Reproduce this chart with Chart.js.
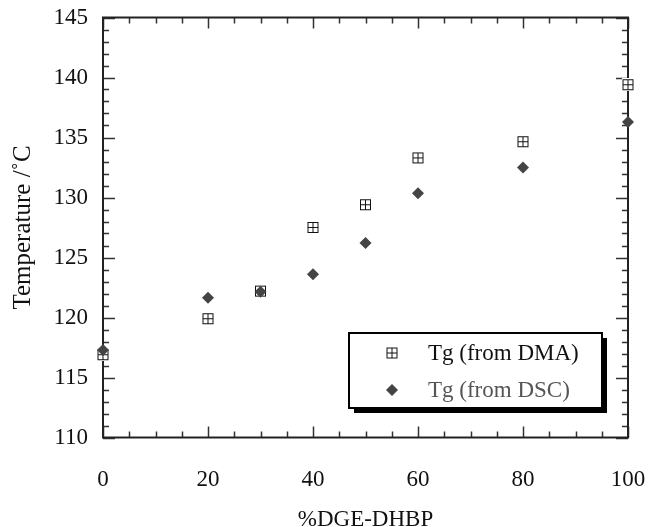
<!DOCTYPE html>
<html>
<head>
<meta charset="utf-8">
<script src="https://cdn.jsdelivr.net/npm/chart.js@4"></script>
<style>
  html, body { margin: 0; padding: 0; background: #fff; }
  #wrap { width: 648px; height: 527px; }
</style>
</head>
<body>
<div id="wrap"><canvas id="chart" width="648" height="527"></canvas></div>
<script>
// %DGE-DHBP content
const composition = [0, 20, 30, 40, 50, 60, 80, 100];
// Tg values (deg C)
const tgDMA = [116.9, 119.9, 122.2, 127.5, 129.4, 133.3, 134.65, 139.4];
const tgDSC = [117.3, 121.65, 122.15, 123.6, 126.2, 130.35, 132.5, 136.3];
const seriesLabels = ['Tg (from DMA)', 'Tg (from DSC)'];

const FONT = "'Liberation Serif', 'DejaVu Serif', serif";

// square with a cross inside, used as point style for DMA
function boxCross() {
  const c = document.createElement('canvas');
  c.width = 13; c.height = 13;
  const g = c.getContext('2d');
  g.fillStyle = '#fff';
  g.fillRect(0, 0, 13, 13);
  g.strokeStyle = '#111';
  g.lineWidth = 1;
  g.strokeRect(1.5, 1.5, 10, 10);
  g.beginPath();
  g.moveTo(6.5, 1.5); g.lineTo(6.5, 11.5);
  g.moveTo(1.5, 6.5); g.lineTo(11.5, 6.5);
  g.stroke();
  return c;
}
const dmaMarker = boxCross();

const toPoints = ys => composition.map((x, i) => ({ x: x, y: ys[i] }));

// frame with inward ticks on all four sides
const framePlugin = {
  id: 'frame',
  beforeDatasetsDraw(chart) {
    const { ctx, chartArea: a, scales: { x, y } } = chart;
    ctx.save();
    ctx.strokeStyle = '#333';
    ctx.lineWidth = 1.5;
    ctx.beginPath();
    for (let v = 0; v <= 100; v += 5) {
      const px = Math.round(x.getPixelForValue(v)) + 0.5;
      const len = v % 20 === 0 ? 11 : 6;
      ctx.moveTo(px, a.bottom); ctx.lineTo(px, a.bottom - len);
      ctx.moveTo(px, a.top); ctx.lineTo(px, a.top + len);
    }
    for (let v = 110; v <= 145; v += 1) {
      const py = Math.round(y.getPixelForValue(v)) + 0.5;
      const len = v % 5 === 0 ? 12 : 6;
      ctx.moveTo(a.left, py); ctx.lineTo(a.left + len, py);
      ctx.moveTo(a.right, py); ctx.lineTo(a.right - len, py);
    }
    ctx.stroke();
    ctx.lineWidth = 2;
    ctx.strokeStyle = '#222';
    ctx.strokeRect(a.left, a.top, a.right - a.left, a.bottom - a.top);
    ctx.restore();
  },
  afterDraw(chart) {
    // boxed legend with drop shadow
    const { ctx } = chart;
    const bx = 349, by = 333, bw = 253, bh = 75;
    ctx.save();
    ctx.fillStyle = '#000';
    ctx.fillRect(bx + 5, by + 5, bw, bh);
    ctx.fillStyle = '#fff';
    ctx.fillRect(bx, by, bw, bh);
    ctx.strokeStyle = '#000';
    ctx.lineWidth = 2;
    ctx.strokeRect(bx, by, bw, bh);
    ctx.font = '23px ' + FONT;
    ctx.textBaseline = 'middle';
    const rows = [by + 20, by + 57];
    chart.data.datasets.forEach((ds, i) => {
      const cy = rows[i];
      if (ds.pointStyle === dmaMarker) {
        ctx.drawImage(dmaMarker, 392 - 6.5, cy - 6.5);
      } else {
        ctx.fillStyle = ds.backgroundColor;
        Chart.helpers.drawPoint(ctx, { pointStyle: 'rectRot', radius: 6, borderWidth: 0 }, 392, cy);
      }
      ctx.fillStyle = i === 0 ? '#111' : '#555';
      ctx.fillText(ds.label, 428, cy + 1);
    });
    ctx.restore();
  }
};

new Chart(document.getElementById('chart'), {
  type: 'scatter',
  data: {
    datasets: [
      {
        label: seriesLabels[0],
        data: toPoints(tgDMA),
        pointStyle: dmaMarker,
        clip: false,
        order: 1
      },
      {
        label: seriesLabels[1],
        data: toPoints(tgDSC),
        pointStyle: 'rectRot',
        pointRadius: 6,
        pointHoverRadius: 6,
        backgroundColor: '#444',
        borderColor: '#444',
        borderWidth: 0,
        clip: false,
        order: 0
      }
    ]
  },
  options: {
    responsive: false,
    animation: false,
    events: [],
    layout: { padding: { top: 17.5, right: 20, left: 0, bottom: 0 } },
    plugins: { legend: { display: false }, tooltip: { enabled: false } },
    scales: {
      x: {
        type: 'linear',
        min: 0, max: 100,
        grid: { display: false, drawTicks: false },
        border: { display: false },
        ticks: { stepSize: 20, padding: 29, color: '#111', font: { family: FONT, size: 23 } },
        title: { display: true, text: '%DGE-DHBP', color: '#111', padding: { top: 0, bottom: -7 }, font: { family: FONT, size: 23 } },
        afterFit: s => { s.height = 89.5; s.paddingLeft = 0; s.paddingRight = 0; }
      },
      y: {
        min: 110, max: 145,
        grid: { display: false, drawTicks: false },
        border: { display: false },
        ticks: { stepSize: 5, padding: 15, color: '#111', font: { family: FONT, size: 23 } },
        title: { display: true, text: 'Temperature /˚C', color: '#111', padding: { top: 8, bottom: 0 }, font: { family: FONT, size: 25 } },
        afterFit: s => { s.width = 103; s.paddingTop = 0; s.paddingBottom = 0; }
      }
    }
  },
  plugins: [framePlugin]
});
</script>
</body>
</html>
